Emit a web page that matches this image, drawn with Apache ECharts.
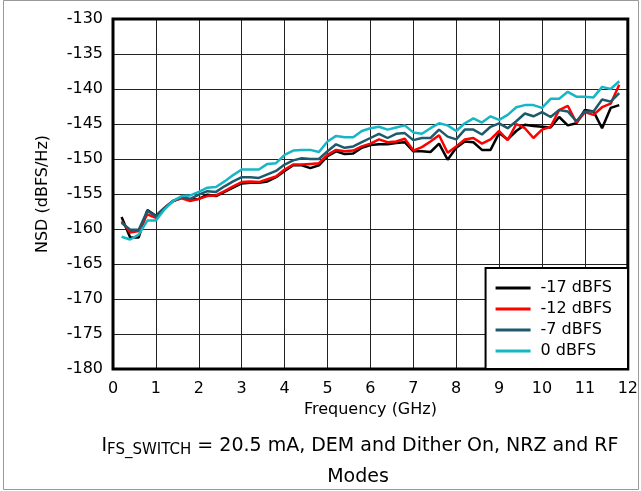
<!DOCTYPE html>
<html lang="en" style="height: 100%">
<head>
  <meta charset="utf-8">
</head>
<body style="height: 100%; margin: 0; background: #fff">
  <div id="container" style="width: 641px; height: 491px"></div>

  <script type="text/javascript" src="https://fastly.jsdelivr.net/npm/echarts@6/dist/echarts.min.js"></script>

  <script type="text/javascript">
    // frequency points, GHz
    var freq = [0.2, 0.4, 0.6, 0.8, 1.0, 1.2, 1.4, 1.6, 1.8, 2.0, 2.2, 2.4, 2.6, 2.8, 3.0,
      3.2, 3.4, 3.6, 3.8, 4.0, 4.2, 4.4, 4.6, 4.8, 5.0, 5.2, 5.4, 5.6, 5.8, 6.0,
      6.2, 6.4, 6.6, 6.8, 7.0, 7.2, 7.4, 7.6, 7.8, 8.0, 8.2, 8.4, 8.6, 8.8, 9.0,
      9.2, 9.4, 9.6, 9.8, 10.0, 10.2, 10.4, 10.6, 10.8, 11.0, 11.2, 11.4, 11.6, 11.8];

    var nsdM17 = [-158.3, -161.2, -161.2, -157.3, -158.1, -157.0, -156.0, -155.5, -155.8, -155.7,
      -155.1, -155.3, -154.7, -154.1, -153.5, -153.4, -153.4, -153.2, -152.6, -151.7,
      -150.9, -150.9, -151.3, -150.9, -149.6, -148.9, -149.3, -149.2, -148.4, -148.0,
      -147.9, -147.9, -147.7, -147.6, -148.9, -148.9, -149.0, -147.8, -150.1, -148.4,
      -147.5, -147.6, -148.7, -148.7, -146.3, -147.2, -146.0, -145.1, -145.3, -145.4,
      -145.5, -144.0, -145.2, -144.9, -143.0, -143.2, -145.6, -142.7, -142.3];

    var nsdM12 = [-158.9, -160.5, -160.3, -157.9, -158.4, -157.0, -156.0, -155.6, -156.0, -155.7,
      -155.3, -155.2, -154.6, -153.9, -153.3, -153.2, -153.3, -152.9, -152.5, -151.5,
      -150.8, -150.8, -150.7, -150.6, -149.4, -148.7, -148.9, -148.8, -148.2, -147.8,
      -147.2, -147.6, -147.5, -147.1, -148.8, -148.3, -147.5, -146.6, -149.1, -148.2,
      -147.2, -147.0, -147.8, -147.2, -146.0, -147.3, -145.0, -145.6, -147.0, -145.8,
      -145.4, -143.0, -142.4, -144.8, -143.3, -143.7, -142.6, -142.1, -139.4];

    var nsdM7 = [-159.1, -160.1, -160.1, -157.4, -158.2, -157.0, -156.0, -155.4, -155.7, -155.1,
      -154.6, -154.7, -153.9, -153.2, -152.6, -152.6, -152.7, -152.2, -151.7, -150.8,
      -150.2, -149.9, -150.0, -150.0, -148.9, -147.9, -148.4, -148.2, -147.6, -147.0,
      -146.4, -147.0, -146.4, -146.3, -147.3, -147.0, -147.0, -145.8, -146.8, -147.2,
      -145.8, -145.8, -146.5, -145.4, -144.9, -145.6, -144.6, -143.5, -143.9, -143.3,
      -144.0, -143.0, -143.2, -144.6, -143.2, -143.2, -141.5, -141.8, -140.6];

    var nsd0 = [-161.1, -161.5, -160.8, -158.8, -158.8, -157.2, -156.0, -155.3, -155.2, -154.7,
      -154.1, -154.0, -153.2, -152.3, -151.5, -151.5, -151.5, -150.7, -150.6, -149.4,
      -148.8, -148.7, -148.7, -149.0, -147.5, -146.7, -146.9, -146.9, -146.0, -145.6,
      -145.4, -145.8, -145.5, -145.2, -146.2, -146.4, -145.6, -144.9, -145.2, -146.0,
      -144.9, -144.2, -144.8, -143.9, -144.4, -143.7, -142.6, -142.3, -142.3, -142.7,
      -141.4, -141.4, -140.4, -141.1, -141.1, -141.2, -139.7, -140.0, -138.9];

    var seriesNames = ['-17 dBFS', '-12 dBFS', '-7 dBFS', '0 dBFS'];
    var seriesColors = ['#000000', '#ff0000', '#1d5a6c', '#17b6c6'];
    var seriesValues = [nsdM17, nsdM12, nsdM7, nsd0];

    var FONT = 'DejaVu Sans';

    function pairs(ys) {
      return freq.map(function (f, i) { return [f, ys[i]]; });
    }

    var seriesList = seriesNames.map(function (name, k) {
      return {
        type: 'line',
        name: name,
        data: pairs(seriesValues[k]),
        showSymbol: false,
        symbol: 'none',
        color: seriesColors[k],
        lineStyle: { width: 2.5, color: seriesColors[k] },
        animation: false
      };
    });

    var dom = document.getElementById('container');
    var myChart = echarts.init(dom, null, { renderer: 'canvas' });

    var option = {
      animation: false,
      backgroundColor: '#ffffff',
      grid: {
        left: 113, top: 19, right: 13, bottom: 122,
        show: true,
        borderColor: '#000',
        borderWidth: 3,
        z: 10
      },
      xAxis: {
        type: 'value',
        min: 0, max: 12, interval: 1,
        name: 'Frequency (GHz)',
        nameLocation: 'middle',
        nameGap: 33,
        nameTextStyle: { fontFamily: FONT, fontSize: 16, color: '#000' },
        axisLine: { show: false },
        axisTick: { show: false },
        axisLabel: { fontFamily: FONT, fontSize: 16, color: '#000', margin: 12 },
        splitLine: { lineStyle: { color: '#222', width: 1 } }
      },
      yAxis: {
        type: 'value',
        min: -180, max: -130, interval: 5,
        name: 'NSD (dBFS/Hz)',
        nameLocation: 'middle',
        nameGap: 62,
        nameTextStyle: { fontFamily: FONT, fontSize: 16, color: '#000' },
        axisLine: { show: false },
        axisTick: { show: false },
        axisLabel: { fontFamily: FONT, fontSize: 16, color: '#000', margin: 10 },
        splitLine: { lineStyle: { color: '#222', width: 1 } }
      },
      legend: {
        orient: 'vertical',
        right: 13,
        bottom: 122,
        data: seriesNames,
        icon: 'rect',
        itemWidth: 35,
        itemHeight: 3,
        itemGap: 5,
        padding: [12, 16, 10, 10],
        backgroundColor: '#fff',
        borderColor: '#000',
        borderWidth: 2,
        textStyle: { fontFamily: FONT, fontSize: 16, color: '#000', padding: [0, 0, 0, 5] },
        z: 20
      },
      graphic: [
        {
          type: 'rect',
          shape: { x: 3.5, y: 0.5, width: 635, height: 489 },
          style: { fill: null, stroke: '#999', lineWidth: 1 },
          silent: true
        },
        {
          type: 'text',
          x: 360,
          y: 446,
          style: {
            text: '{a|I}{s|FS_SWITCH}{a| = 20.5 mA, DEM and Dither On, NRZ and RF}',
            align: 'center',
            verticalAlign: 'middle',
            rich: {
              a: { fontFamily: FONT, fontSize: 19, fill: '#000' },
              s: { fontFamily: FONT, fontSize: 15, fill: '#000', padding: [8, 0, 0, 0] }
            }
          }
        },
        {
          type: 'text',
          x: 358,
          y: 477,
          style: {
            text: 'Modes',
            align: 'center',
            verticalAlign: 'middle',
            fontFamily: FONT,
            fontSize: 19,
            fill: '#000'
          }
        }
      ],
      series: seriesList
    };

    myChart.setOption(option);
    window.addEventListener('resize', myChart.resize);
  </script>
</body>
</html>
